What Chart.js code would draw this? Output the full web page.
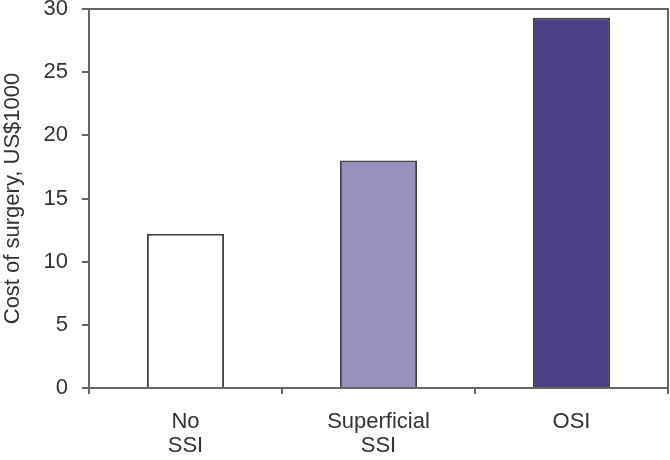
<!DOCTYPE html>
<html>
<head>
<meta charset="utf-8">
<script src="https://cdn.jsdelivr.net/npm/chart.js@4"></script>
<style>
  html, body { margin: 0; padding: 0; background: #fff; }
  #wrap { width: 670px; height: 460px; }
</style>
</head>
<body>
<div id="wrap"><canvas id="chart"></canvas></div>
<script>
// Chart data
const categories = [['No', 'SSI'], ['Superficial', 'SSI'], 'OSI'];
const costs = [12.2, 18.0, 29.3];
const barColors = ['#ffffff', '#9990bf', '#4b4088'];
const yTicks = [0, 5, 10, 15, 20, 25, 30];

const axisColor = '#666666';
const textColor = '#333333';
const font = { family: 'Liberation Sans, Arial, sans-serif', size: 22 };

// Draw the top and right edges of the plot frame
const frame = {
  id: 'frame',
  afterDraw(chart) {
    const { ctx, chartArea: { top, right, left, bottom } } = chart;
    ctx.save();
    ctx.strokeStyle = axisColor;
    ctx.lineWidth = 2;
    ctx.beginPath();
    ctx.moveTo(left, top);
    ctx.lineTo(right, top);
    ctx.lineTo(right, bottom);
    ctx.stroke();
    ctx.restore();
  }
};

new Chart(document.getElementById('chart'), {
  type: 'bar',
  data: {
    labels: categories,
    datasets: [{
      data: costs,
      backgroundColor: barColors,
      borderColor: '#444444',
      borderWidth: 2,
      borderSkipped: 'bottom',
      barPercentage: 0.8,
      categoryPercentage: 0.5
    }]
  },
  options: {
    responsive: true,
    maintainAspectRatio: false,
    animation: false,
    layout: { padding: { left: 0, top: 9, right: 2, bottom: 0 } },
    plugins: { legend: { display: false }, tooltip: { enabled: false } },
    scales: {
      x: {
        grid: { drawOnChartArea: false, offset: true, tickLength: 6, color: axisColor, lineWidth: 2 },
        border: { color: axisColor, width: 2 },
        ticks: { color: textColor, font: { ...font, lineHeight: 1.1 }, padding: 16, maxRotation: 0 },
        afterFit(scale) {
          scale.height = 72;
          scale.paddingLeft = 0;
          scale.paddingRight = 0;
        }
      },
      y: {
        min: 0,
        max: 30,
        afterBuildTicks(scale) { scale.ticks = yTicks.map(v => ({ value: v })); },
        grid: { drawOnChartArea: false, tickLength: 7, color: axisColor, lineWidth: 2 },
        border: { color: axisColor, width: 2 },
        ticks: { color: textColor, font: font, padding: 14 },
        title: { display: true, text: 'Cost of surgery, US$1000', color: textColor, font: font, padding: 0 },
        afterFit(scale) {
          scale.width = 89;
          scale.paddingTop = 0;
          scale.paddingBottom = 0;
        }
      }
    }
  },
  plugins: [frame]
});
</script>
</body>
</html>
